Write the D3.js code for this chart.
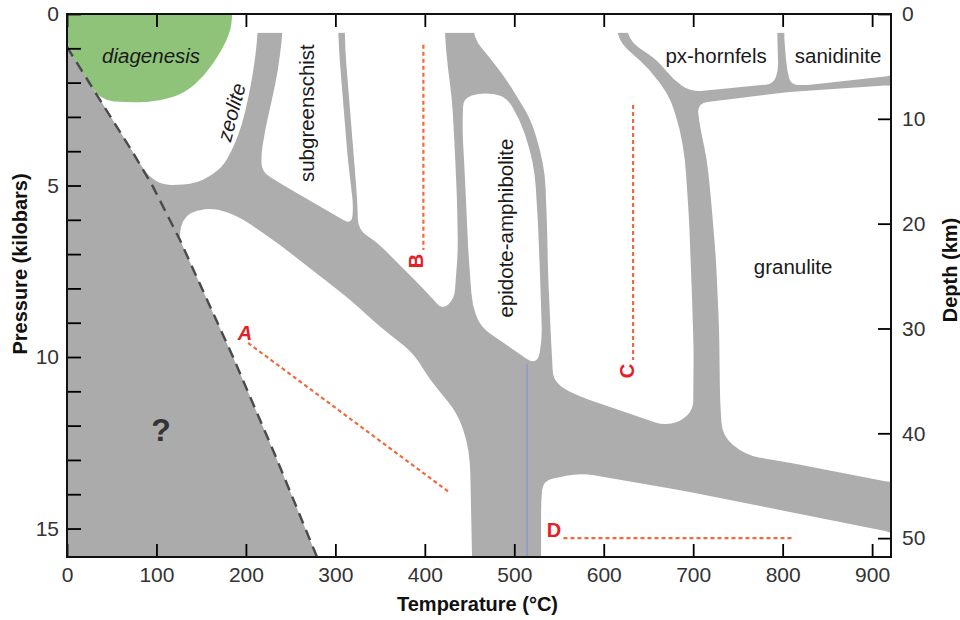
<!DOCTYPE html>
<html>
<head>
<meta charset="utf-8">
<script src="https://cdn.jsdelivr.net/npm/d3@7"></script>
<style>
  body { margin: 0; background: #fff; }
  text { font-family: "Liberation Sans", Arial, sans-serif; }
</style>
</head>
<body>
<svg id="chart" width="960" height="620"></svg>
<script>
// axis ticks
const tempTicks = [0, 100, 200, 300, 400, 500, 600, 700, 800, 900]
const pressTicks = [0, 1, 2, 3, 4, 5, 6, 7, 8, 9, 10, 11, 12, 13, 14, 15]
const pressLabels = [0, 5, 10, 15]
const depthTicks = [0, 10, 20, 30, 40, 50]

// facies fields, [temperature °C, pressure kbar]
const zeoliteField = [[0, -0.5], [0, 0.96], [37, 2.51], [74, 4.05], [90.6, 4.72], [107.3, 4.99], [145.3, 4.96], [173.3, 4.49], [184.5, 3.97], [195.7, 3.24], [204.6, 2.22], [210.2, 1.34], [213.6, 0.45], [214.7, -0.5]]
const subgreenschistField = [[241.5, -0.5], [241.5, 0.45], [236, 1.63], [229, 2.51], [221.5, 3.38], [217, 4.11], [218, 4.6], [238, 4.93], [318.5, 6.15], [320, 5.57], [314, 4.26], [308.5, 2.51], [304, 1.05], [302, -0.5]]
const greenschistField = [[310, -0.5], [311, 1.05], [315.5, 2.51], [320, 3.96], [324.5, 5.42], [325.5, 6.3], [346.5, 6.65], [400, 8.05], [420, 8.63], [433, 8.3], [437, 6.88], [436, 5.42], [433.5, 3.96], [430.5, 2.51], [426, 1.63], [422.5, 0.7], [422.5, -0.5]]
const epidoteField = [[443, 2.45], [462, 2.3], [489.7, 2.36], [506.5, 3.09], [517.6, 3.96], [523.2, 4.69], [526.6, 6.15], [528.8, 7.61], [531.1, 9.5], [525.5, 10.26], [462, 9.12], [453, 8.48], [448.5, 6.88], [445, 4.84], [442, 3.38]]
const amphiboliteField = [[454, -0.5], [454, 0.7], [473, 1.28], [493.1, 1.98], [518.8, 3.09], [528.8, 3.96], [534.4, 4.69], [536.6, 6.15], [537.8, 7.61], [541.1, 9.5], [543.4, 10.61], [553.4, 10.9], [573.6, 11.16], [666, 11.98], [685, 11.9], [700, 11.54], [700.5, 9.79], [698.8, 8.34], [695.4, 6.0], [691, 4.26], [685.4, 3.38], [674, 2.42], [652, 1.63], [615, 0.76], [615, -0.5]]
const hornfelsField = [[626.3, -0.5], [626.3, 0.76], [660, 1.34], [678, 1.92], [697, 2.27], [789.7, 2.04], [795.2, 1.63], [794, 0.76], [794, -0.5]]
const sanidiniteField = [[801.6, -0.5], [801.6, 0.76], [805, 1.63], [809, 2.07], [827, 2.07], [930, 1.78], [930, -0.5]]
const granuliteField = [[704.5, 2.6], [808, 2.27], [930, 2.06], [930, 13.7], [797, 13.03], [758, 12.86], [732.5, 12.3], [730, 11.25], [729, 9.2], [725.5, 7.17], [720, 5.42], [715.5, 4.26], [707, 3.2]]
const eclogiteField = [[530, 16.5], [530, 14.2], [532, 13.6], [573.6, 13.38], [685, 13.88], [797, 14.46], [930, 15.15], [930, 16.5]]
const blueschistField = [[124, 6.59], [131, 5.83], [163, 5.63], [193.4, 5.92], [238, 6.73], [313, 8.25], [350, 9.12], [387, 9.88], [406, 10.67], [436, 11.63], [447, 12.42], [450.6, 13.09], [452.8, 15.83], [453, 16.5], [288, 16.5], [230, 12.85], [183, 10]]
const fields = [zeoliteField, subgreenschistField, greenschistField, epidoteField, amphiboliteField,
  hornfelsField, sanidiniteField, granuliteField, eclogiteField, blueschistField]

// dashed limit of the unknown region and the diagenesis patch
const unknownEdge = [[0, 0.96], [37, 2.51], [74, 4.05], [96.2, 5.04], [126.3, 6.59], [185.6, 10], [232.5, 12.85], [279.5, 15.83], [290, 16.5]]
const diagenesis = [[0, -0.5], [186, -0.5], [183.4, 0.47], [173.3, 1.05], [154.3, 1.78], [131.9, 2.3], [104, 2.54], [70.4, 2.59], [37, 2.51], [0, 0.96]]

// paths A-D and the thin blue line
const pathNames = ["A", "B", "C", "D"]
const pathLines = [[[202.4, 9.59], [428.2, 13.96]], [[398.4, 0.9], [398.4, 6.88]], [[632.8, 2.65], [632.8, 10.09]], [[555, 15.28], [810, 15.28]]]
const pathLabelAt = [[199, 9.3], [390.2, 7.2], [626, 10.41], [544.5, 15.04]]
const blueLine = [[514.3, 10.2], [514.3, 15.83]]

const faciesNames = ["diagenesis", "zeolite", "subgreenschist", "epidote-amphibolite", "px-hornfels", "sanidinite", "granulite", "?"]
const faciesAt = [[94, 1.2], [183.4, 2.86], [267.2, 2.89], [489.7, 6.24], [725.6, 1.22], [862, 1.22], [811.7, 7.35], [105, 12.13]]

const svg = d3.select("#chart")
const x = d3.scaleLinear().domain([0, 920]).range([67, 890])
const y = d3.scaleLinear().domain([0, 15.83]).range([14, 557])
const depth = d3.scaleLinear().domain([0, 51.8]).range([14, 557])

svg.append("defs").append("clipPath").attr("id", "plot")
  .append("rect").attr("x", x(0)).attr("y", y(0))
  .attr("width", x(920) - x(0)).attr("height", y(15.83) - y(0))

// closed polygon with rounded corners, in pixels
function rounded(pts, r) {
  const p = pts.map(d => [x(d[0]), y(d[1])])
  const n = p.length
  const path = d3.path()
  for (let i = 0; i < n; i++) {
    const a = p[(i + n - 1) % n], b = p[i], c = p[(i + 1) % n]
    const l1 = Math.hypot(a[0] - b[0], a[1] - b[1])
    const l2 = Math.hypot(c[0] - b[0], c[1] - b[1])
    const k = Math.min(r, l1 / 2, l2 / 2)
    const s = [b[0] + (a[0] - b[0]) * k / l1, b[1] + (a[1] - b[1]) * k / l1]
    const e = [b[0] + (c[0] - b[0]) * k / l2, b[1] + (c[1] - b[1]) * k / l2]
    if (i === 0) path.moveTo(s[0], s[1])
    else path.lineTo(s[0], s[1])
    path.quadraticCurveTo(b[0], b[1], e[0], e[1])
  }
  path.closePath()
  return path.toString()
}

const line = d3.line().x(d => x(d[0])).y(d => y(d[1]))
const g = svg.append("g").attr("clip-path", "url(#plot)")

// grey transition bands are what is left between the fields
g.append("rect")
  .attr("x", x(0)).attr("y", y(0.55))
  .attr("width", x(920) - x(0)).attr("height", y(15.83) - y(0.55))
  .style("fill", "#adadad")

g.selectAll(".field")
  .data(fields)
  .enter()
  .append("path")
  .attr("class", "field")
  .attr("d", d => rounded(d, 14))
  .style("fill", "#fff")

g.append("path")
  .attr("d", line(unknownEdge.concat([[0, 16.5]])) + "Z")
  .style("fill", "#ababab")

g.append("path")
  .attr("d", rounded(diagenesis, 14))
  .style("fill", "#8fc37a")

g.append("path")
  .attr("d", line(unknownEdge))
  .style("fill", "none").style("stroke", "#4a4a4a")
  .style("stroke-width", 2.4).style("stroke-dasharray", "11,7")

g.append("path")
  .attr("d", line(blueLine))
  .style("stroke", "#7d8fe0").style("stroke-width", 1)

g.selectAll(".route")
  .data(pathLines)
  .enter()
  .append("path")
  .attr("class", "route")
  .attr("d", d => line(d))
  .style("fill", "none").style("stroke", "#f26a3b")
  .style("stroke-width", 2.2).style("stroke-dasharray", "4,3")

// axes
function styleAxis(a) {
  a.select(".domain").remove()
  a.selectAll(".tick line").style("stroke-width", 1.8)
  a.selectAll("text").style("font-size", "21px").style("fill", "#333")
  a.attr("font-family", null)
}

svg.append("g")
  .attr("transform", "translate(0," + y(15.83) + ")")
  .call(d3.axisBottom(x).tickValues(tempTicks).tickSize(-13).tickPadding(10))
  .call(styleAxis)

svg.append("g")
  .attr("transform", "translate(0," + y(0) + ")")
  .call(d3.axisTop(x).tickValues(tempTicks).tickSize(-13).tickFormat(""))
  .call(styleAxis)

svg.append("g")
  .attr("transform", "translate(" + x(0) + ",0)")
  .call(d3.axisLeft(y).tickValues(pressTicks).tickSize(-14).tickPadding(8)
    .tickFormat(d => pressLabels.includes(d) ? d : ""))
  .call(styleAxis)

svg.append("g")
  .attr("transform", "translate(" + (x(920) + 1) + ",0)")
  .call(d3.axisRight(depth).tickValues(depthTicks).tickSize(-13).tickPadding(11))
  .call(styleAxis)

svg.append("rect")
  .attr("x", x(0)).attr("y", y(0))
  .attr("width", x(920) - x(0) + 1).attr("height", y(15.83) - y(0))
  .style("fill", "none").style("stroke", "#111").style("stroke-width", 2)

// facies labels
const turn = { "zeolite": -75, "subgreenschist": -90, "epidote-amphibolite": -90 }
svg.selectAll(".facies")
  .data(faciesNames)
  .enter()
  .append("text")
  .attr("class", "facies")
  .attr("transform", (d, i) => "translate(" + x(faciesAt[i][0]) + "," + y(faciesAt[i][1]) + ") rotate(" + (turn[d] || 0) + ")")
  .attr("text-anchor", "middle")
  .attr("dominant-baseline", "central")
  .style("font-size", d => d === "?" ? "32px" : "20.5px")
  .style("font-weight", d => d === "?" ? "bold" : "normal")
  .style("font-style", d => d === "diagenesis" || d === "zeolite" ? "italic" : "normal")
  .style("fill", d => d === "?" ? "#333" : "#1a1a1a")
  .text(d => d)

svg.selectAll(".routeLabel")
  .data(pathNames)
  .enter()
  .append("text")
  .attr("class", "routeLabel")
  .attr("transform", (d, i) => "translate(" + x(pathLabelAt[i][0]) + "," + y(pathLabelAt[i][1]) + ") rotate(" + (d === "B" || d === "C" ? -90 : 0) + ")")
  .attr("text-anchor", "middle")
  .attr("dominant-baseline", "central")
  .style("font-size", "20px")
  .style("font-weight", "bold")
  .style("font-style", d => d === "A" ? "italic" : "normal")
  .style("fill", "#e61e25")
  .text(d => d)

// axis titles
svg.append("text")
  .attr("x", (x(0) + x(920)) / 2 - 1).attr("y", 611)
  .attr("text-anchor", "middle")
  .style("font-size", "20px").style("font-weight", "bold").style("fill", "#111")
  .text("Temperature (°C)")

svg.append("text")
  .attr("transform", "translate(27," + 264 + ") rotate(-90)")
  .attr("text-anchor", "middle")
  .style("font-size", "20px").style("font-weight", "bold").style("fill", "#111")
  .text("Pressure (kilobars)")

svg.append("text")
  .attr("transform", "translate(957," + 270 + ") rotate(-90)")
  .attr("text-anchor", "middle")
  .style("font-size", "20px").style("font-weight", "bold").style("fill", "#111")
  .text("Depth (km)")
</script>
</body>
</html>
